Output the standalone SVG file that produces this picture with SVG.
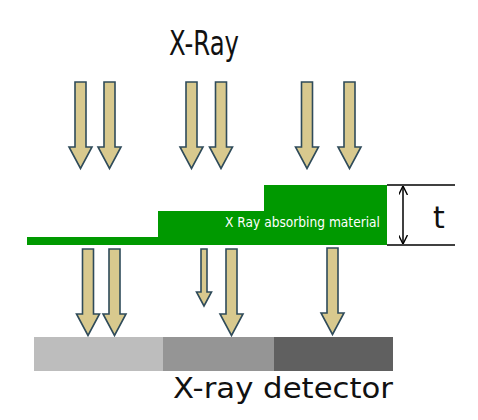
<svg xmlns="http://www.w3.org/2000/svg" xmlns:xlink="http://www.w3.org/1999/xlink" width="478" height="420" viewBox="0 0 478 420">
  <style>
    .ray { fill: #d8c98e; stroke: #2f4b5a; stroke-width: 1.6; stroke-linejoin: miter; }
    .lbl { font-family: "DejaVu Sans", Verdana, sans-serif; fill: #111; }
    .dim { stroke: #000; stroke-width: 1.5; fill: none; }
  </style>
  <defs>
    <path id="big" class="ray" d="M-5.5,0 H5.5 V65 H11.5 L0,86.5 L-11.5,65 H-5.5 Z"/>
    <path id="small" class="ray" d="M-3,0 H3 V43 H7.5 L0,57 L-7.5,43 H-3 Z"/>
    <marker id="ah" viewBox="0 0 10 10" refX="10" refY="5" markerWidth="9" markerHeight="9" markerUnits="userSpaceOnUse" orient="auto-start-reverse">
      <path d="M0,0 L10,5 L0,10" fill="none" stroke="#000" stroke-width="1.6"/>
    </marker>
  </defs>
  <rect width="478" height="420" fill="#fff"/>

  <g id="title">
    <text class="lbl" x="169" y="55" font-size="33" textLength="70" lengthAdjust="spacingAndGlyphs">X-Ray</text>
  </g>

  <g id="incident-rays">
    <use xlink:href="#big" transform="translate(80.5,82)"/>
    <use xlink:href="#big" transform="translate(109.5,82)"/>
    <use xlink:href="#big" transform="translate(191.5,82)"/>
    <use xlink:href="#big" transform="translate(221,82)"/>
    <use xlink:href="#big" transform="translate(307,82)"/>
    <use xlink:href="#big" transform="translate(349.5,82)"/>
  </g>

  <g id="material">
    <path d="M27,237 H158 V211 H264 V185 H387 V245 H27 Z" fill="#009900"/>
    <text x="225" y="227" font-family="'DejaVu Sans', Verdana, sans-serif" font-size="14" fill="#fff" textLength="155" lengthAdjust="spacingAndGlyphs">X Ray absorbing material</text>
  </g>

  <g id="thickness">
    <line class="dim" x1="387" y1="185" x2="455" y2="185"/>
    <line class="dim" x1="387" y1="245" x2="455" y2="245"/>
    <line class="dim" x1="403" y1="186" x2="403" y2="244" marker-start="url(#ah)" marker-end="url(#ah)"/>
    <text class="lbl" x="439" y="228" font-size="30" text-anchor="middle" fill="#000">t</text>
  </g>

  <g id="transmitted-rays">
    <use xlink:href="#big" transform="translate(88,249)"/>
    <use xlink:href="#big" transform="translate(114.5,249)"/>
    <use xlink:href="#small" transform="translate(204,249)"/>
    <use xlink:href="#big" transform="translate(231.5,249)"/>
    <use xlink:href="#big" transform="translate(332.5,248)"/>
  </g>

  <g id="detector">
    <rect x="34" y="337" width="129" height="34" fill="#bdbdbd"/>
    <rect x="163" y="337" width="111" height="34" fill="#959595"/>
    <rect x="274" y="337" width="119" height="34" fill="#606060"/>
    <text class="lbl" x="173" y="398" font-size="29" textLength="220" lengthAdjust="spacingAndGlyphs">X-ray detector</text>
  </g>
</svg>
